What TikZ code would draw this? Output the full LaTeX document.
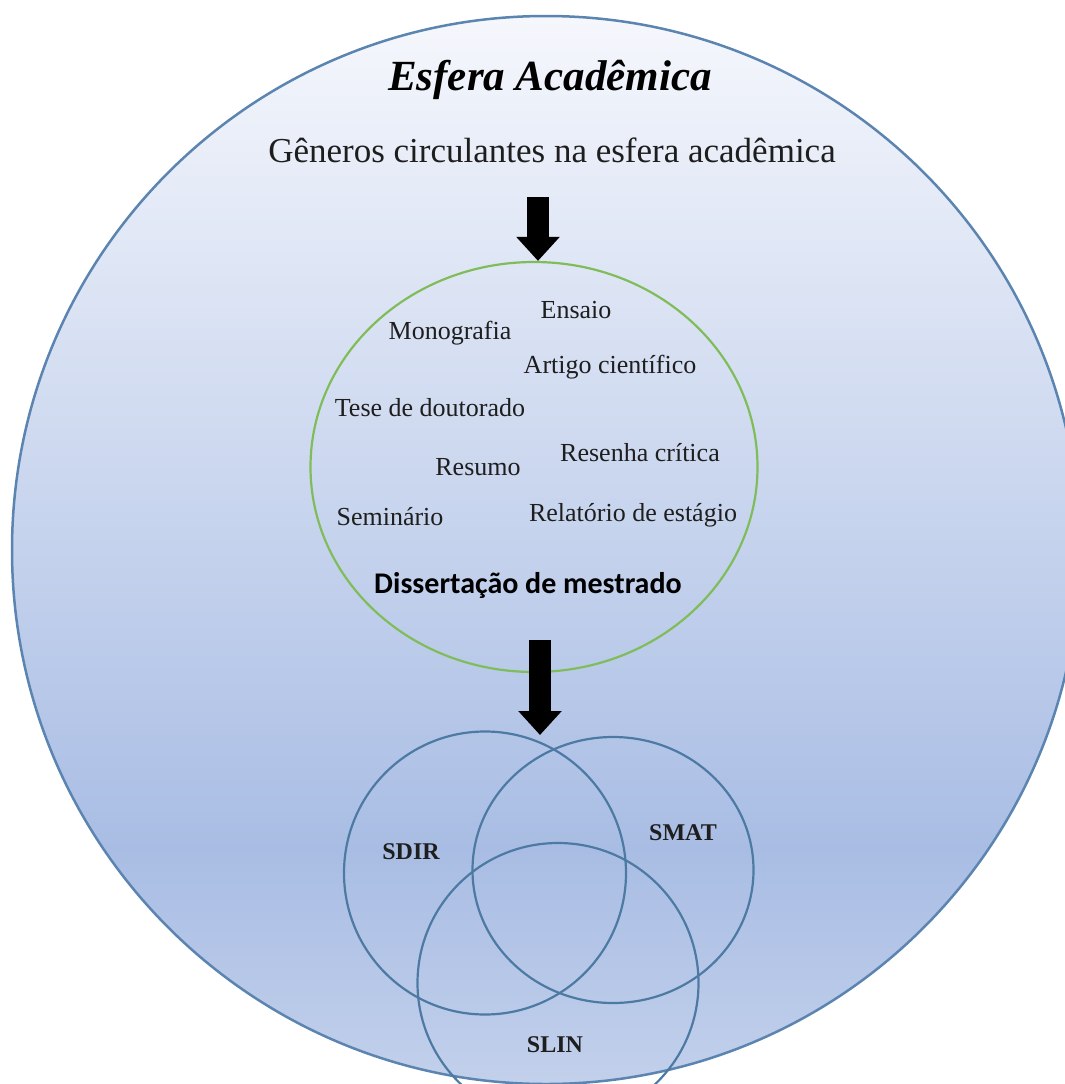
\documentclass[tikz,border=0pt]{standalone}
\usepackage{fontspec}
\setmainfont{Liberation Serif}
\newfontfamily\carlito{Carlito}
\usetikzlibrary{shapes.geometric,arrows.meta}
\definecolor{borda}{RGB}{91,133,176}
\definecolor{verde}{RGB}{128,189,90}
\definecolor{vennazul}{RGB}{77,122,163}
\definecolor{texto}{RGB}{30,30,30}
\definecolor{topo}{RGB}{245,247,252}
\definecolor{meio}{RGB}{169,189,228}
\definecolor{base}{RGB}{194,208,235}
\pgfdeclareverticalshading{esferagrad}{100bp}{color(0bp)=(base); color(25bp)=(base);
  color(36bp)=(meio); color(75bp)=(topo); color(100bp)=(topo)}
\begin{document}
\begin{tikzpicture}[x=1pt, y=-1pt,
  every node/.style = {align=center, text=texto},
  genero/.style = {font=\fontsize{26}{30}\selectfont},
  sigla/.style = {font=\fontsize{24}{28}\selectfont\bfseries},
  venn/.style = {ellipse, draw=vennazul, line width=2.2pt, inner sep=0pt},
  seta/.style = {line width=22pt, -{Triangle[width=42pt, length=24pt]}}]
  \useasboundingbox (0,0) rectangle (1065,1084);
  \clip (0,0) rectangle (1065,1084);
  % esfera
  \node[circle, draw=borda, line width=2.5pt, shading=esferagrad,
    minimum size=1068pt, inner sep=0pt] (esfera) at (546,550) {};
  \node[font=\fontsize{43}{50}\selectfont\bfseries\itshape, text=black] (titulo) at (550,80) {Esfera Acadêmica};
  \node[font=\fontsize{35}{40}\selectfont] (subtitulo) at (552,150) {Gêneros circulantes na esfera acadêmica};
  % generos
  \node[ellipse, draw=verde, line width=2.2pt, minimum width=447pt,
    minimum height=410pt, inner sep=0pt] (generos) at (534,467) {};
  \node[genero] (ensaio) at (576,310) {Ensaio};
  \node[genero] (monografia) at (450,333) {Monografia};
  \node[genero] (artigo) at (610,367) {Artigo científico};
  \node[genero] (tese) at (430,408) {Tese de doutorado};
  \node[genero] (resenha) at (640,453) {Resenha crítica};
  \node[genero] (resumo) at (478,467) {Resumo};
  \node[genero] (seminario) at (390,517) {Seminário};
  \node[genero] (relatorio) at (633,515) {Relatório de estágio};
  \node[font=\carlito\bfseries\fontsize{30}{35}\selectfont, text=black] (dissertacao) at (528,585) {Dissertação de mestrado};
  % venn
  \node[venn, minimum width=282pt, minimum height=283pt] (sdir) at (485,873) {};
  \node[venn, minimum width=281pt, minimum height=266pt] (smat) at (613,870) {};
  \node[venn, minimum width=281pt, minimum height=280pt] (slin) at (558,983) {};
  \node[sigla] (lsdir) at (411,852) {SDIR};
  \node[sigla] (lsmat) at (683,833) {SMAT};
  \node[sigla] (lslin) at (555,1045) {SLIN};
  % setas
  \coordinate (s1) at (538,197);
  \draw[seta] (s1) -- (s1 |- generos.north);
  \coordinate (s2) at (540,640);
  \coordinate (s2fim) at (540,735);
  \draw[seta] (s2) -- (s2fim);
\end{tikzpicture}
\end{document}
